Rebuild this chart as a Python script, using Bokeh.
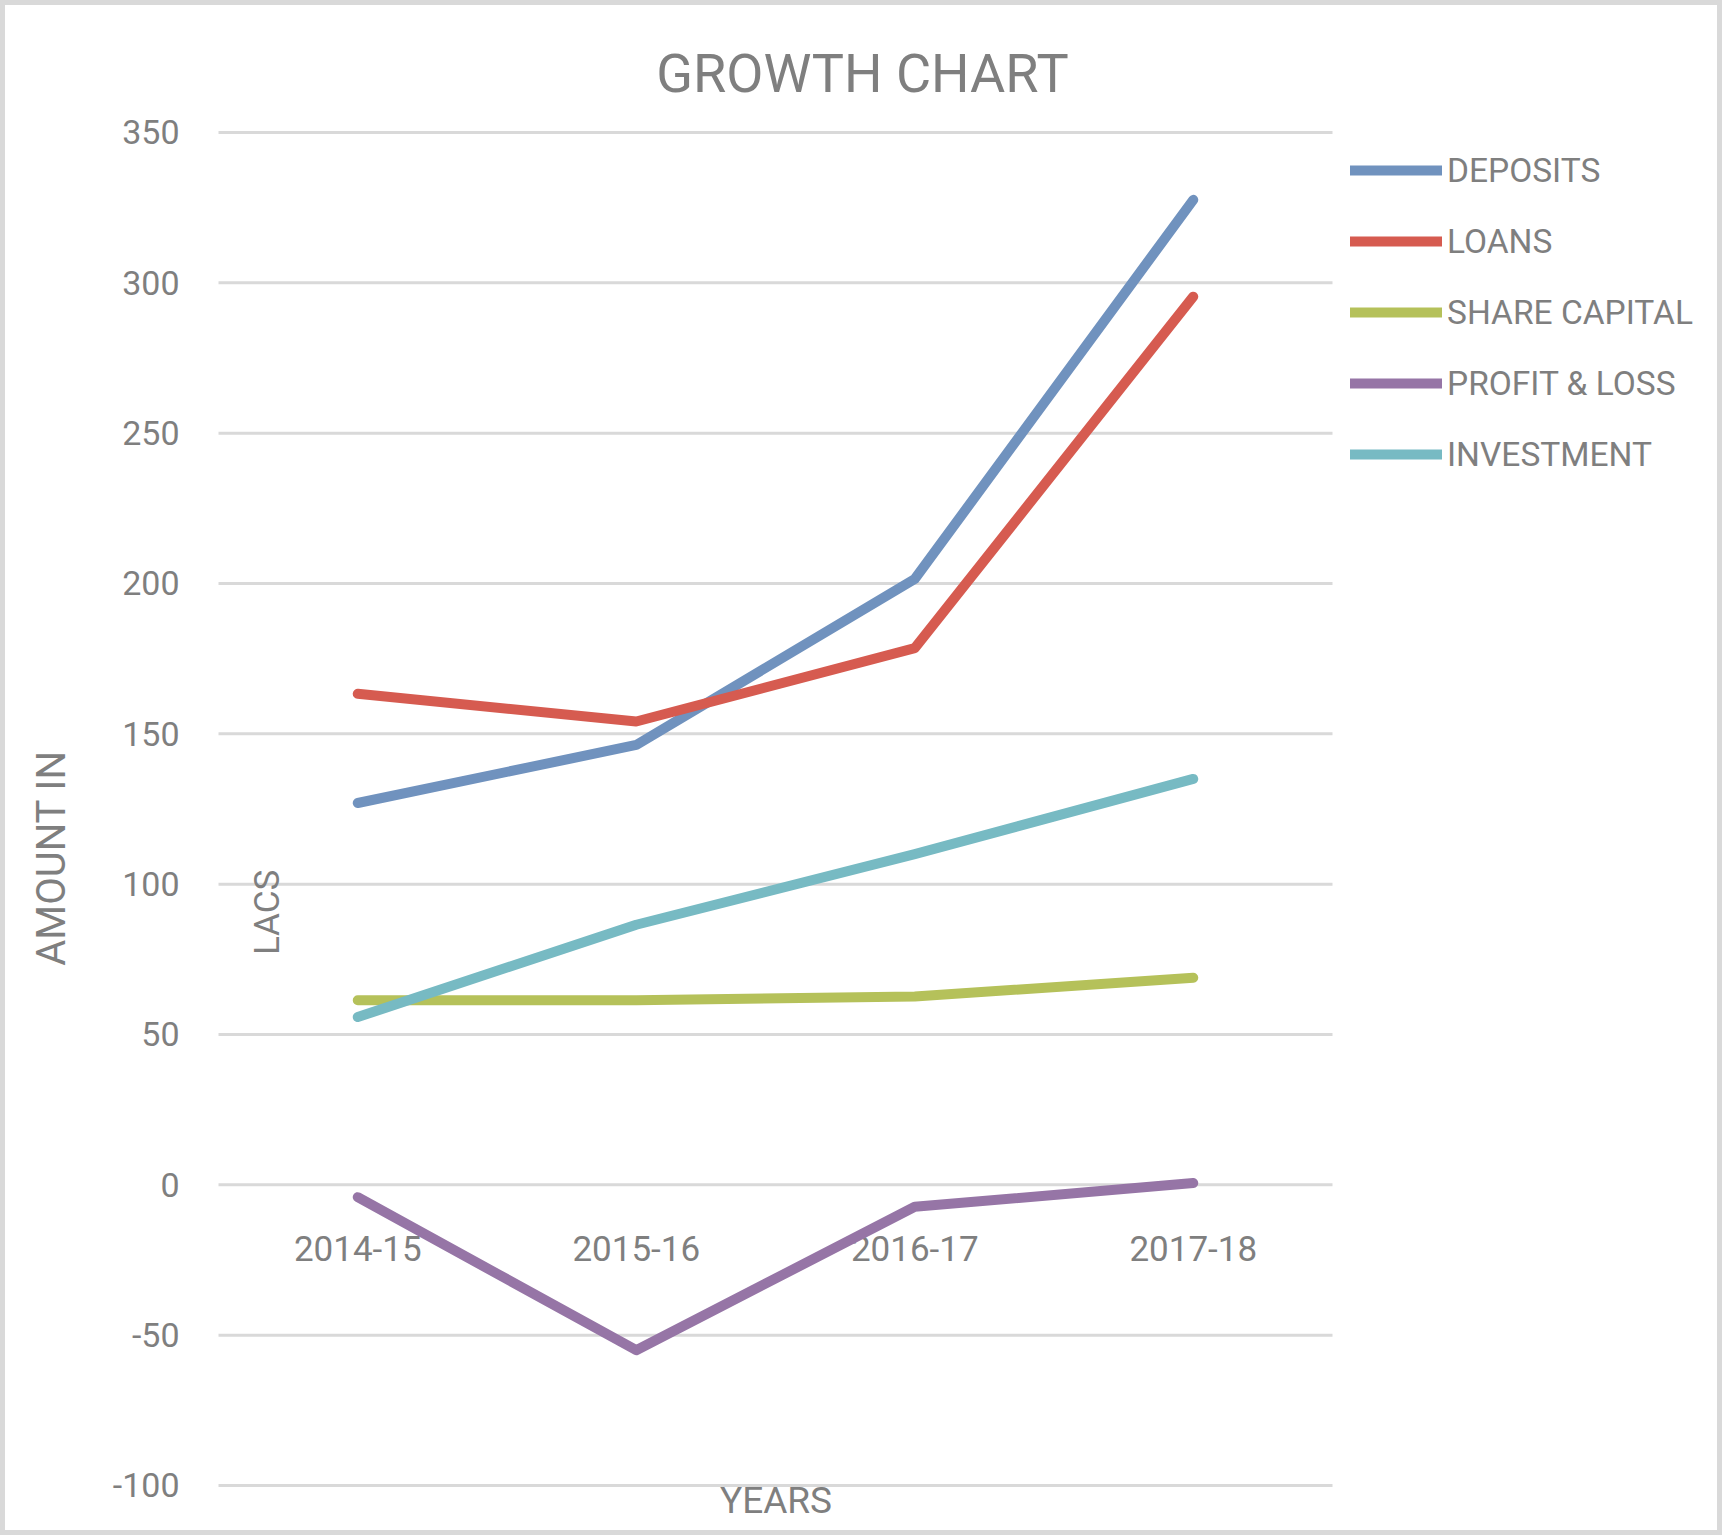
import math
from bokeh.plotting import figure
from bokeh.models import Range1d, Label, Legend, LegendItem
from bokeh.core.properties import value
from bokeh.embed import file_html
from bokeh.resources import INLINE

# ---- data ----
years = ["2014-15", "2015-16", "2016-17", "2017-18"]
deposits = [127.0, 146.3, 201.5, 327.6]
loans = [163.3, 154.1, 178.5, 295.4]
share_capital = [61.4, 61.4, 62.6, 68.9]
profit_loss = [-4.1, -55.0, -7.3, 0.6]
investment = [55.8, 86.5, 110.0, 135.0]
series_names = ["DEPOSITS", "LOANS", "SHARE CAPITAL", "PROFIT & LOSS", "INVESTMENT"]
series_colors = ["#7092be", "#d65b50", "#b5c15a", "#9675a6", "#77bac3"]
y_ticks = [-100, -50, 0, 50, 100, 150, 200, 250, 300, 350]
y_tick_labels = [str(t) for t in y_ticks]

FONT = "Roboto"
TXT = "#7f7f7f"
GRID = "#d9d9d9"

W, H = 1722, 1535
x_idx = list(range(len(years)))
band_lo, band_hi = -0.5, len(years) - 0.5

p = figure(
    x_range=Range1d(-1.2828, 4.9004),
    y_range=Range1d(-116.63, 393.90),
    width=W, height=H,
    output_backend="svg", toolbar_location=None,
    x_axis_location=None, y_axis_location=None,
    min_border=0,
)
p.background_fill_color = "white"
p.border_fill_color = "white"
p.outline_line_color = GRID
p.outline_line_width = 9
p.xgrid.visible = False
p.ygrid.visible = False

# horizontal gridlines across the plot band
p.segment(x0=[band_lo] * len(y_ticks), x1=[band_hi] * len(y_ticks),
          y0=y_ticks, y1=y_ticks, line_color=GRID, line_width=3)

# value-axis tick labels
p.text(x=[band_lo] * len(y_ticks), y=y_ticks, text=y_tick_labels,
       x_offset=-39,
       text_font=value(FONT), text_font_size="34px", text_color=TXT,
       text_align="right", text_baseline="middle")

# category labels sitting under the zero line
p.text(x=x_idx, y=[0] * len(years), text=years, y_offset=64,
       text_font=value(FONT), text_font_size="35px", text_color=TXT,
       text_align="center", text_baseline="middle")

all_series = [deposits, loans, share_capital, profit_loss, investment]
items = []
for name, vals, col in zip(series_names, all_series, series_colors):
    r = p.line(x=x_idx, y=vals, line_color=col, line_width=10,
               line_cap="round", line_join="round")
    items.append(LegendItem(label=name, renderers=[r]))

legend = Legend(items=items, location=(1350, 1061),
                glyph_width=92, glyph_height=40, label_height=40,
                spacing=31, label_standoff=5, padding=0, margin=0,
                border_line_color=None, background_fill_alpha=0,
                label_text_font=FONT, label_text_font_size="33.5px",
                label_text_color=TXT)
p.add_layout(legend)

def lab(text, x, y, size, angle=0.0):
    p.add_layout(Label(x=x, y=y, text=text, angle=angle,
                       text_font=FONT, text_font_size=size, text_color=TXT,
                       text_align="center", text_baseline="middle"))

lab("GROWTH CHART", 1.8124, 369.5, "54px")
lab("AMOUNT IN", -1.0996, 108.7, "40px", math.pi / 2)
lab("LACS", -0.3241, 90.6, "35px", math.pi / 2)
lab("YEARS", 1.5018, -105.0, "37px")

open("out.html", "w").write(file_html(p, INLINE))
